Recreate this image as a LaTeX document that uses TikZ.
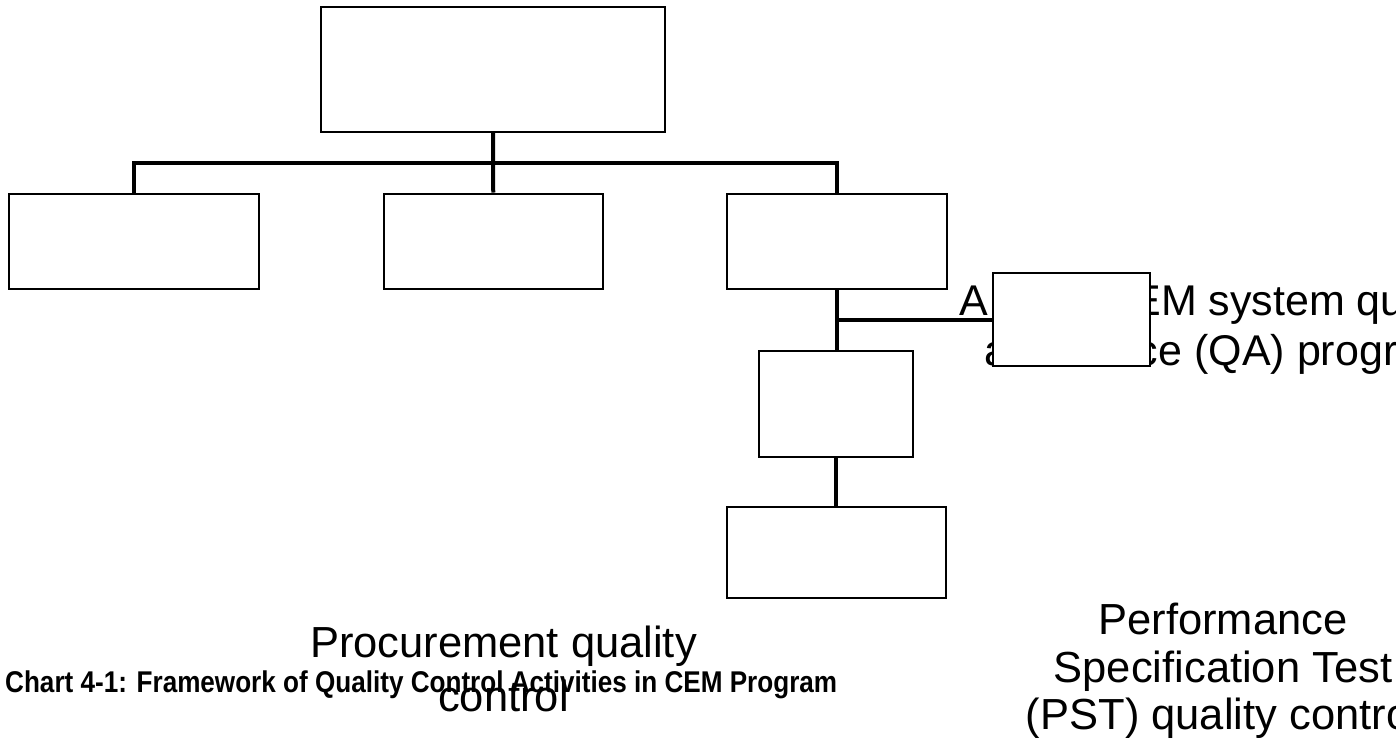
\documentclass[tikz,border=0pt]{standalone}
\usepackage{fontspec}
\setmainfont{Liberation Sans}
\newfontfamily\capfont[FakeStretch=0.87]{Liberation Sans}
\begin{document}
\begin{tikzpicture}[x=1pt,y=-1pt,
  box/.style={draw=black, line width=2pt, fill=white, rectangle, inner sep=0pt},
  conn/.style={draw=black, line width=4pt},
  lbl/.style={inner sep=0pt, align=center, text=black}]
\useasboundingbox (0,0) rectangle (1396,750);
\clip (0,0) rectangle (1396,750);
% label that lies under the side box
\node[lbl, font=\fontsize{43}{50}\selectfont, anchor=north] (qa) at (1220.6,284)
  {A\hspace{2.62em}CEM system quality\\assurance (QA) program};
% boxes
\node[box, minimum width=344pt, minimum height=125pt] (top) at (493,69.5) {};
\node[box, minimum width=250.5pt, minimum height=95pt] (b1) at (133.75,241) {};
\node[box, minimum width=218.5pt, minimum height=95pt] (b2) at (493.25,241) {};
\node[box, minimum width=219.5pt, minimum height=94.5pt] (b3) at (836.75,241.25) {};
\node[box, minimum width=157pt, minimum height=93pt] (b4) at (1071.5,319.5) {};
\node[box, minimum width=154pt, minimum height=106.5pt] (b5) at (836,403.75) {};
\node[box, minimum width=219pt, minimum height=91pt] (b6) at (836.5,552.5) {};
% connectors
\coordinate (bar) at (493,163);
\draw[conn] (top.south) -- (b2.north);
\draw[conn] (b1.north) -- (b1.north |- bar) -- (b3.north |- bar) -- (b3.north);
\draw[conn] (b3.south) -- (b3.south |- b5.north);
\draw[conn] (b3.south |- b4.west) -- (b4.west);
\draw[conn] (b5.south) -- (b5.south |- b6.north);
% other labels
\node[lbl, font=\fontsize{43.5}{54}\selectfont, anchor=north] (proc) at (503.5,626)
  {Procurement quality\\control};
\node[lbl, font=\fontsize{43.5}{47.5}\selectfont, anchor=north] (pst) at (1223,603)
  {Performance\\Specification Test\\(PST) quality control};
\node[lbl, font=\capfont\bfseries\fontsize{30}{36}\selectfont, anchor=base west] (cap) at (5,692)
  {Chart 4-1: Framework of Quality Control Activities in CEM Program};
\end{tikzpicture}
\end{document}
